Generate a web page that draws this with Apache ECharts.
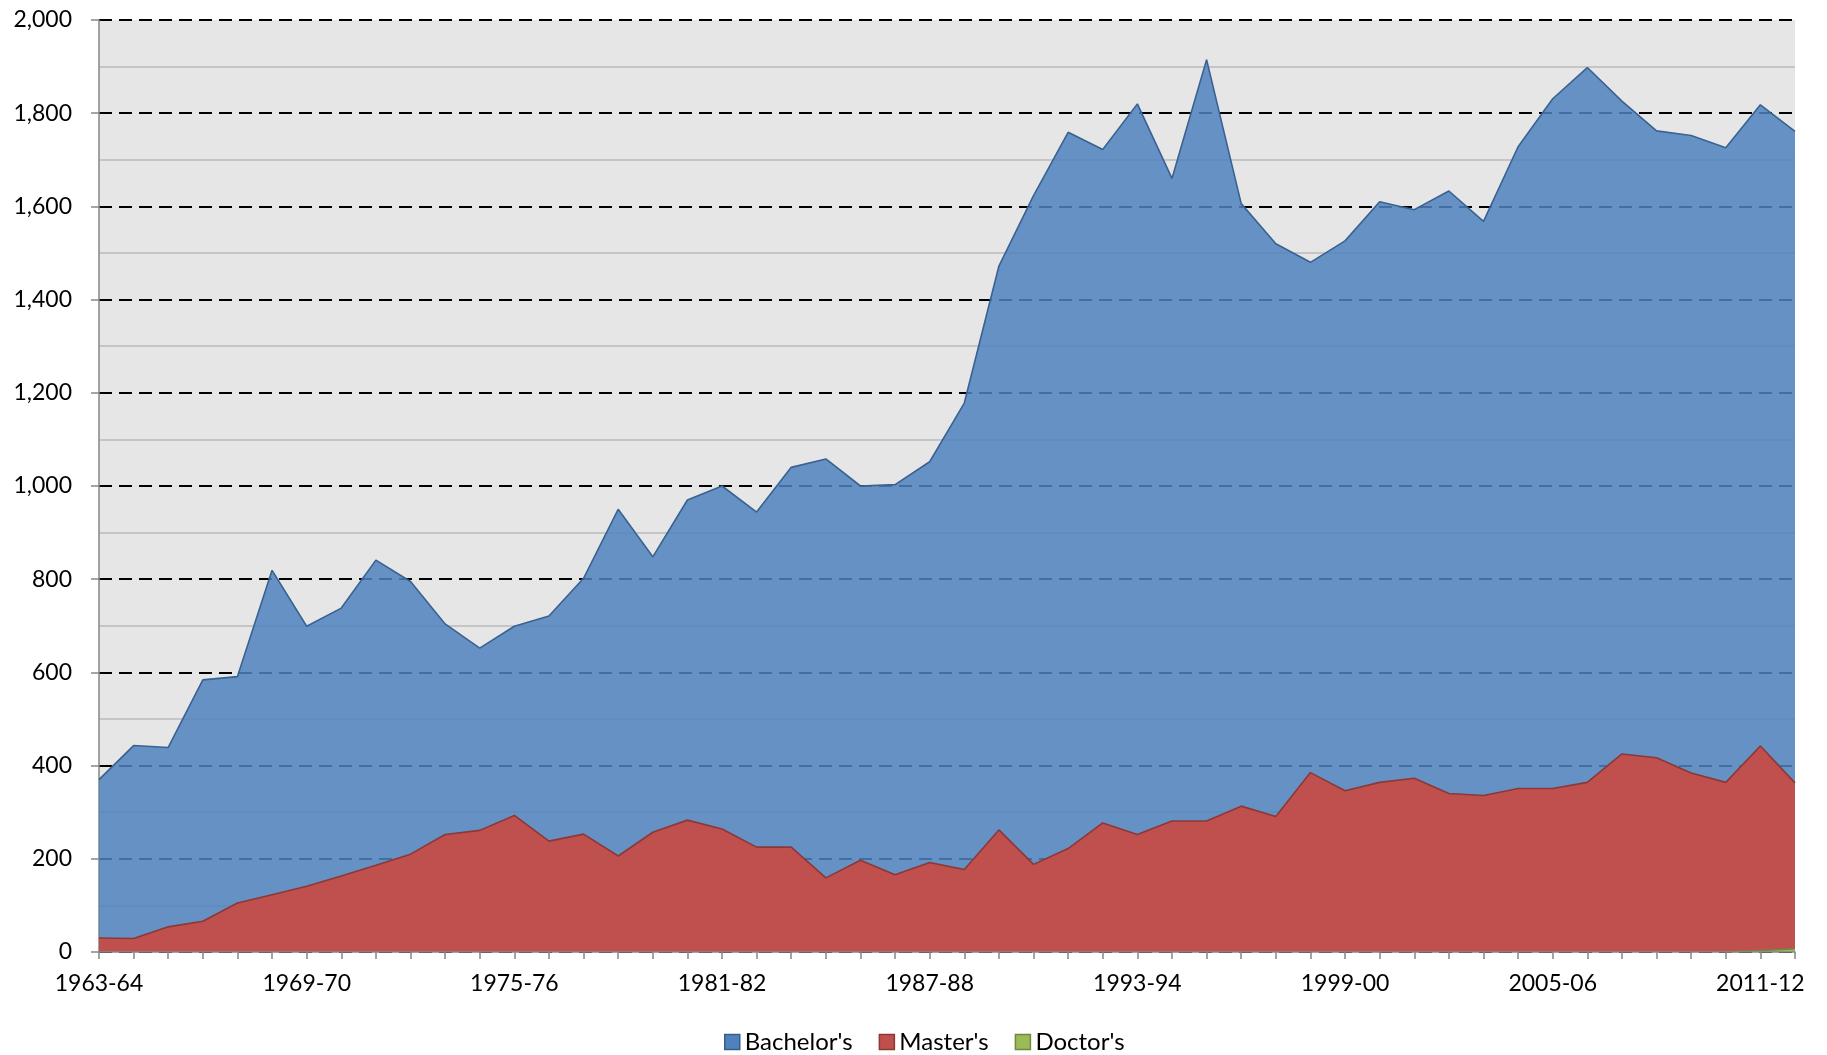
<!DOCTYPE html>
<html>
<head>
<meta charset="utf-8">
<style>
  html, body { margin: 0; padding: 0; background: #ffffff; }
  #chart { width: 1827px; height: 1055px; }
</style>
<script src="https://cdn.jsdelivr.net/npm/echarts@6/dist/echarts.min.js"></script>
</head>
<body>
<div id="chart"></div>
<script>
// Academic years on the category axis
const years = [
  '1963-64','1964-65','1965-66','1966-67','1967-68','1968-69','1969-70','1970-71','1971-72','1972-73',
  '1973-74','1974-75','1975-76','1976-77','1977-78','1978-79','1979-80','1980-81','1981-82','1982-83',
  '1983-84','1984-85','1985-86','1986-87','1987-88','1988-89','1989-90','1990-91','1991-92','1992-93',
  '1993-94','1994-95','1995-96','1996-97','1997-98','1998-99','1999-00','2000-01','2001-02','2002-03',
  '2003-04','2004-05','2005-06','2006-07','2007-08','2008-09','2009-10','2010-11','2011-12','2012-13'
];

// Degrees conferred, by level
const bachelors = [
  370, 443, 439, 584, 591, 819, 699, 738, 841, 795,
  704, 652, 699, 721, 802, 950, 848, 970, 1000, 944,
  1040, 1058, 1000, 1003, 1052, 1178, 1472, 1623, 1759, 1722,
  1820, 1660, 1915, 1606, 1520, 1480, 1526, 1610, 1593, 1633,
  1568, 1728, 1831, 1898, 1826, 1762, 1752, 1726, 1818, 1761
];
const masters = [
  30, 29, 54, 66, 105, 123, 141, 163, 186, 210,
  252, 261, 293, 238, 253, 206, 257, 283, 264, 225,
  225, 159, 197, 166, 192, 177, 262, 188, 222, 277,
  252, 281, 281, 313, 291, 385, 346, 364, 373, 340,
  336, 351, 351, 364, 425, 417, 384, 364, 442, 363
];
const doctors = [
  null, null, null, null, null, null, null, null, null, null,
  null, null, null, null, null, null, null, null, null, null,
  null, null, null, null, null, null, null, null, null, null,
  null, null, null, null, null, null, null, null, null, null,
  null, null, null, null, null, null, null, 0, 3, 7
];

const FONT = 'Lato';
const chart = echarts.init(document.getElementById('chart'), null, { renderer: 'canvas' });

function areaSeries(name, data, fill, edge, opacity) {
  return {
    name: name,
    type: 'line',
    data: data,
    symbol: 'none',
    lineStyle: { color: edge, width: 1.6 },
    itemStyle: { color: fill },
    areaStyle: { color: fill, opacity: opacity },
    emphasis: { disabled: true }
  };
}

chart.setOption({
  animation: false,
  backgroundColor: '#ffffff',
  textStyle: { fontFamily: FONT },
  grid: {
    left: 99, right: 32, top: 20, bottom: 103,
    show: true, backgroundColor: '#e6e6e6', borderWidth: 0
  },
  legend: {
    top: 1030,
    left: 724,
    padding: 0,
    icon: 'rect',
    itemWidth: 15,
    itemHeight: 15,
    itemGap: 26,
    textStyle: { fontFamily: FONT, fontSize: 24, color: '#000000' },
    data: [
      { name: "Bachelor's", itemStyle: { color: '#4f81bd', borderColor: '#385d8a', borderWidth: 1.5 } },
      { name: "Master's", itemStyle: { color: '#c0504d', borderColor: '#8c3836', borderWidth: 1.5 } },
      { name: "Doctor's", itemStyle: { color: '#9bbb59', borderColor: '#71893f', borderWidth: 1.5 } }
    ]
  },
  xAxis: {
    type: 'category',
    data: years,
    boundaryGap: false,
    z: 5,
    axisLine: { lineStyle: { color: '#868686', width: 1.5 } },
    axisTick: { show: true, interval: 0, length: 7, lineStyle: { color: '#868686', width: 1.5 } },
    axisLabel: { interval: 5, margin: 20, fontFamily: FONT, fontSize: 23, color: '#000000' },
    splitLine: { show: false }
  },
  yAxis: {
    type: 'value',
    min: 0,
    max: 2000,
    interval: 200,
    axisLine: { show: true, lineStyle: { color: '#868686', width: 1.5 } },
    axisTick: { show: true, length: 8, lineStyle: { color: '#868686', width: 1.5 } },
    axisLabel: {
      margin: 27, fontFamily: FONT, fontSize: 23, color: '#000000',
      formatter: v => v.toLocaleString('en-US')
    },
    splitLine: { show: true, lineStyle: { color: '#000000', width: 2, type: [13, 7] } },
    minorTick: { show: false, splitNumber: 2 },
    minorSplitLine: { show: true, lineStyle: { color: '#bababa', width: 1.5 } }
  },
  series: [
    areaSeries("Bachelor's", bachelors, '#4f81bd', '#3a6291', 0.85),
    areaSeries("Master's", masters, '#c0504d', '#8c3836', 1),
    areaSeries("Doctor's", doctors, '#9bbb59', '#71893f', 1)
  ]
});
</script>
</body>
</html>
